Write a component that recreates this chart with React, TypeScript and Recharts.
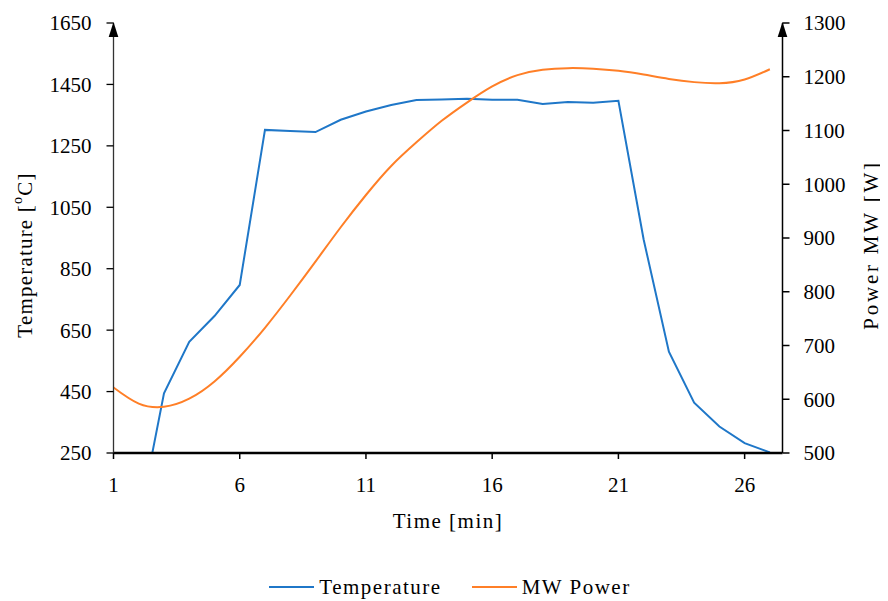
import React from 'react';
import { LineChart, Line, XAxis, YAxis, Legend, Label, ReferenceDot } from 'recharts';

const times = [1, 2, 3, 4, 5, 6, 7, 8, 9, 10, 11, 12, 13, 14, 15, 16, 17, 18, 19, 20, 21, 22, 23, 24, 25, 26, 27];
const temperature = [25, 25, 444, 612, 696, 797, 1302, 1298, 1295, 1335, 1362, 1383, 1399, 1401, 1403, 1400, 1400, 1386, 1393, 1390, 1397, 945, 580, 414, 336, 282, 252];
const mwPower = [622, 592, 586, 601, 633, 679, 733, 793, 856, 920, 980, 1034, 1078, 1118, 1152, 1182, 1203, 1213, 1216, 1215, 1211, 1204, 1196, 1190, 1188, 1195, 1214];

const timeTicks = [1, 6, 11, 16, 21, 26];
const tempTicks = [250, 450, 650, 850, 1050, 1250, 1450, 1650];
const powerTicks = [500, 600, 700, 800, 900, 1000, 1100, 1200, 1300];

const data = times.map((t, i) => ({ time: t, Temperature: temperature[i], Power: mwPower[i] }));

const FONT = '"Liberation Serif", "Times New Roman", serif';
const BLUE = '#1f77c8';
const ORANGE = '#ff7f27';
const tickStyle = { fill: '#000', fontSize: 21, fontFamily: FONT };

// filled arrow head sitting on top of a y axis
const Arrow = (props: any) => {
  const { cx, cy } = props;
  return <path d={`M${cx},${cy - 1} L${cx + 4.8},${cy + 14} L${cx - 4.8},${cy + 14} Z`} fill="#000" />;
};

const LeftTitle = () => (
  <text x={17} y={247} transform="rotate(-90 17 247)" textAnchor="middle" dominantBaseline="central"
    fontFamily={FONT} fontSize={21} letterSpacing={1.2} fill="#000">
    Temperature [<tspan fontSize={14} dy={-8}>o</tspan><tspan dy={8}>C]</tspan>
  </text>
);

const RightTitle = () => (
  <text x={863} y={237} transform="rotate(-90 863 237)" textAnchor="middle" dominantBaseline="central"
    fontFamily={FONT} fontSize={21} letterSpacing={2.8} fill="#000">
    Power MW [W]
  </text>
);

const BottomTitle = () => (
  <text x={440} y={513} textAnchor="middle" dominantBaseline="central"
    fontFamily={FONT} fontSize={21} letterSpacing={1.5} fill="#000">
    Time [min]
  </text>
);

const renderLegend = () => (
  <div style={{ height: 24, paddingLeft: 12, display: 'flex', justifyContent: 'center', alignItems: 'center', fontFamily: FONT, fontSize: 21, letterSpacing: 1.5, color: '#000' }}>
    <svg width={45} height={4}><line x1={0} y1={2} x2={45} y2={2} stroke={BLUE} strokeWidth={2} /></svg>
    <span style={{ marginLeft: 5 }}>Temperature</span>
    <svg width={45} height={4} style={{ marginLeft: 30 }}><line x1={0} y1={2} x2={45} y2={2} stroke={ORANGE} strokeWidth={2} /></svg>
    <span style={{ marginLeft: 5 }}>MW Power</span>
  </div>
);

export default function App() {
  return (
    <LineChart width={880} height={593} data={data} margin={{ top: 15, right: 8, bottom: 0, left: 0 }} style={{ overflow: 'visible' }}>
      <XAxis
        dataKey="time"
        type="number"
        domain={[1, 27.5]}
        ticks={timeTicks}
        interval={0}
        allowDataOverflow
        height={124}
        tickSize={6}
        tickMargin={18}
        axisLine={{ stroke: '#000', strokeWidth: 2.5 }}
        tickLine={{ stroke: '#000', strokeWidth: 1.5 }}
        tick={tickStyle}
      >
        <Label content={BottomTitle} />
      </XAxis>
      <YAxis
        yAxisId="left"
        width={105.5}
        domain={[250, 1650]}
        ticks={tempTicks}
        interval={0}
        allowDataOverflow
        tickSize={7}
        tickMargin={15}
        axisLine={{ stroke: '#333', strokeWidth: 1.3 }}
        tickLine={{ stroke: '#000', strokeWidth: 1.3 }}
        tick={tickStyle}
      >
        <Label content={LeftTitle} />
      </YAxis>
      <YAxis
        yAxisId="right"
        orientation="right"
        width={97.5}
        domain={[500, 1300]}
        ticks={powerTicks}
        interval={0}
        allowDataOverflow
        tickSize={7}
        tickMargin={14}
        axisLine={{ stroke: '#000', strokeWidth: 1.5 }}
        tickLine={{ stroke: '#000', strokeWidth: 1.5 }}
        tick={tickStyle}
      >
        <Label content={RightTitle} />
      </YAxis>
      <Legend verticalAlign="bottom" content={renderLegend} wrapperStyle={{ bottom: 2 }} />
      <Line yAxisId="left" dataKey="Temperature" type="linear" stroke={BLUE} strokeWidth={2} dot={false} isAnimationActive={false} />
      <Line yAxisId="right" dataKey="Power" type="natural" stroke={ORANGE} strokeWidth={2} dot={false} isAnimationActive={false} />
      <ReferenceDot yAxisId="left" x={1} y={1650} r={0} ifOverflow="visible" shape={Arrow} />
      <ReferenceDot yAxisId="right" x={27.5} y={1300} r={0} ifOverflow="visible" shape={Arrow} />
    </LineChart>
  );
}
